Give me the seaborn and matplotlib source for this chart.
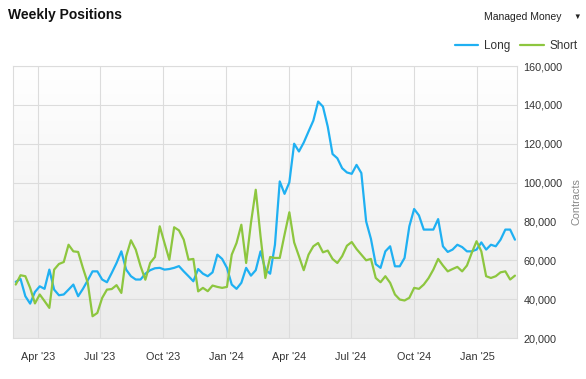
import matplotlib
matplotlib.use("Agg")
import matplotlib.pyplot as plt
import matplotlib.dates as mdates
from matplotlib.colors import LinearSegmentedColormap
from matplotlib.ticker import FuncFormatter
import seaborn as sns
import numpy as np
import pandas as pd

# weekly managed money positions (contracts), first report 2023-02-28
start_date = "2023-02-28"

long_positions = [
    48900, 50400, 41500, 37700, 43700, 46600, 45300, 55200, 44900, 42000,
    42400, 44900, 47500, 41500, 45300, 49700, 54300, 54300, 50100, 48700,
    53500, 58600, 64600, 55200, 51800, 50100, 50100, 53100, 54900, 55900,
    56100, 55200, 55500, 56100, 57000, 54300, 51800, 49200, 55500, 53100,
    51800, 53800, 62900, 60700, 56100, 47500, 45300, 48400, 56100, 52100,
    54900, 64600, 55200, 53100, 68000, 100600, 94200, 100100, 120000, 116000,
    120600, 126300, 131900, 141700, 139100, 128800, 114700, 112500, 107400, 105200,
    104500, 109100, 104900, 80000, 71000, 58000, 56100, 64600, 67200, 56900,
    56900, 61200, 77500, 86400, 83100, 75800, 75800, 75800, 81200, 67200,
    64300, 65500, 68000, 66800, 64600, 64600, 65500, 69200, 65500, 68000,
    67200, 70600, 75800, 75800, 70600,
]

short_positions = [
    47500, 52300, 51800, 45800, 37800, 42400, 39000, 35500, 55200, 58100,
    59100, 68000, 64600, 64300, 56000, 48400, 31200, 32900, 40600, 44900,
    45200, 47200, 43200, 62000, 70300, 65500, 57000, 50000, 58600, 61700,
    77500, 68800, 60300, 77000, 75400, 70600, 60300, 60700, 44000, 45800,
    44100, 47000, 46300, 45800, 46300, 62900, 68900, 78300, 58600, 79200,
    96300, 72300, 50900, 61700, 61200, 61200, 73200, 84700, 69200, 62100,
    54900, 62900, 67200, 68900, 64100, 65000, 60700, 58600, 62100, 67500,
    69400, 65800, 62900, 60000, 60700, 50900, 48700, 51800, 48400, 42400,
    39800, 39300, 40700, 45800, 45300, 47500, 50800, 55200, 60700, 57300,
    54300, 55500, 56600, 54300, 57300, 63800, 69800, 64600, 51800, 50900,
    51800, 53800, 54300, 50100, 52100,
]

series_names = ["Long", "Short"]
y_ticks = [20000, 40000, 60000, 80000, 100000, 120000, 140000, 160000]

dates = pd.date_range(start_date, periods=len(long_positions), freq="7D")
df = pd.DataFrame({"date": dates, "Long": long_positions, "Short": short_positions})
df = df.melt(id_vars="date", var_name="series", value_name="contracts")

sns.set_style("white")
plt.rcParams["font.family"] = ["Liberation Sans", "DejaVu Sans"]

fig = plt.figure(figsize=(5.86, 3.79), dpi=100)
ax = fig.add_axes([13 / 586, 41 / 379, 504 / 586, 272 / 379])

# light gradient behind the plot area
grad = LinearSegmentedColormap.from_list("bg", ["#ffffff", "#ebebeb"])
ax.imshow(np.linspace(0, 1, 256).reshape(-1, 1), cmap=grad, aspect="auto",
          extent=[0, 1, 0, 1], transform=ax.transAxes, zorder=0)

sns.lineplot(data=df, x="date", y="contracts", hue="series", hue_order=series_names,
             palette={"Long": "#1fb0f2", "Short": "#8dc63f"}, linewidth=1.6,
             ax=ax, zorder=3)

ax.set_xlim(dates[0] - pd.Timedelta(days=4), dates[-1] + pd.Timedelta(days=3))
ax.set_ylim(y_ticks[0], y_ticks[-1])

ax.set_axisbelow(True)
ax.grid(True, color="#dcdcdc", linewidth=0.8)
for s in ax.spines.values():
    s.set_color("#dcdcdc")
    s.set_linewidth(0.8)

ax.xaxis.set_major_locator(mdates.MonthLocator(bymonth=[1, 4, 7, 10]))
ax.xaxis.set_major_formatter(mdates.DateFormatter("%b '%y"))
ax.tick_params(axis="x", length=5, width=0.8, color="#d8d8d8", labelsize=7.8,
               pad=5, labelcolor="#333333")

ax.yaxis.tick_right()
ax.yaxis.set_label_position("right")
ax.set_yticks(y_ticks)
ax.yaxis.set_major_formatter(FuncFormatter(lambda v, p: f"{v:,.0f}"))
ax.tick_params(axis="y", length=0, pad=4.5, labelsize=7.8, labelcolor="#333333")
ax.set_xlabel("")
ax.set_ylabel("Contracts", fontsize=7.8, color="#888888")
ax.yaxis.set_label_coords(1.109, 0.5)

handles, labels = ax.get_legend_handles_labels()
ax.legend(handles, labels, loc="center right", bbox_to_anchor=(578 / 586, 1 - 46 / 379),
          bbox_transform=fig.transFigure, ncol=2, frameon=False, fontsize=8.5,
          handlelength=2.0, columnspacing=0.85, handletextpad=0.5, borderaxespad=0,
          borderpad=0, labelcolor="#333333")

fig.text(8 / 586, 1 - 15 / 379, "Weekly Positions", fontsize=10, fontweight="bold",
         va="center", color="#111111")
fig.text(484 / 586, 1 - 16.5 / 379, "Managed Money", fontsize=7.5, va="center",
         color="#222222")
fig.text(573 / 586, 1 - 17 / 379, "\u25bc", fontsize=5.5, va="center", color="#222222")

fig.savefig("out.png", dpi=100)
